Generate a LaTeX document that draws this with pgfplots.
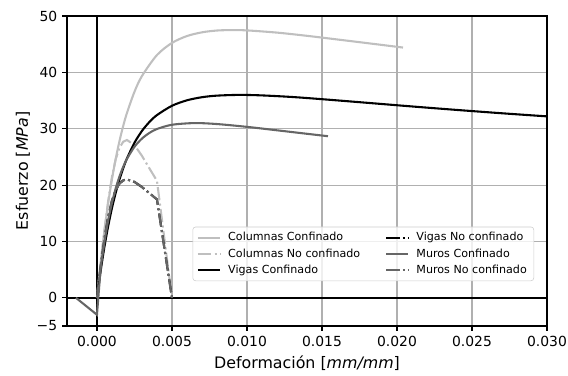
\documentclass[border=0pt]{standalone}
\usepackage{fontspec}
\setmainfont{DejaVu Sans}
\usepackage{pgfplots}
\pgfplotsset{compat=1.18}
\definecolor{colc}{HTML}{BFBFBF}
\definecolor{murc}{HTML}{666666}
\definecolor{gridc}{HTML}{B0B0B0}
\definecolor{legc}{HTML}{CCCCCC}
\tikzset{dashdot/.style={dash pattern=on 9.6pt off 2.4pt on 1.5pt off 2.4pt}}
\begin{document}
\begin{tikzpicture}
\useasboundingbox (-48.2pt,-35.3pt) rectangle (360.7pt,234.7pt);
\begin{axis}[
  at={(0,0)}, anchor=south west,
  width=345.6pt, height=223.2pt, scale only axis,
  xmin=-0.002, xmax=0.030, ymin=-5, ymax=50,
  scaled x ticks=false, scaled y ticks=false,
  xtick={0,0.005,0.010,0.015,0.020,0.025,0.030},
  xticklabels={0.000,0.005,0.010,0.015,0.020,0.025,0.030},
  ytick={-5,0,10,20,30,40,50},
  yticklabels={−5,0,10,20,30,40,50},
  tick align=outside, tick pos=left,
  major tick length=3.5pt,
  every tick/.style={black, line width=0.8pt},
  grid=major, major grid style={gridc, line width=0.8pt},
  axis line style={line width=0.8pt},
  tick label style={font=\fontsize{10}{12}\selectfont},
  label style={font=\fontsize{11.4}{13}\selectfont},
  xlabel={Deformación [\textit{mm/mm}]},
  ylabel={Esfuerzo [\textit{MPa}]},
  ylabel style={yshift=-2pt},
  legend columns=2,
  legend cell align=left,
  legend style={at={(0.973,0.145)}, anchor=south east,
    font=\fontsize{8}{9.6}\selectfont, draw=legc, fill=white, fill opacity=0.8, text opacity=1,
    rounded corners=2pt, inner xsep=3pt, inner ysep=2pt,
    /tikz/every odd column/.append style={column sep=3pt},
    /tikz/every even column/.append style={column sep=16pt}},
  legend image code/.code={\draw[#1] (0pt,0pt) -- (16pt,0pt);},
]
% reference lines
\addplot[black, line width=1.5pt, forget plot] coordinates {(-0.002,0) (0.030,0)};
\addplot[black, line width=1.5pt, forget plot] coordinates {(0,-5) (0,50)};
% Columnas Confinado
\addplot[colc, line width=1.5pt, smooth, forget plot] coordinates {
(0,0) (0.00025,6.33) (0.0005,11.94) (0.00075,16.82) (0.001,21.04) (0.00125,24.67)
(0.0015,27.80) (0.00175,30.49) (0.002,32.80) (0.0025,36.55) (0.003,39.35)
(0.004,43.07) (0.005,45.22) (0.006,46.44) (0.007,47.10) (0.008,47.42) (0.009,47.50)
(0.010,47.44) (0.012,47.05) (0.014,46.48) (0.016,45.84) (0.018,45.19) (0.0204,44.40)};
% Columnas No confinado
\addplot[colc, line width=1.5pt, dashdot, forget plot] coordinates {
(0,0) (0.00025,6.18) (0.0005,12.04) (0.00075,17.23) (0.001,21.46) (0.00125,24.58)
(0.0015,26.61) (0.00175,27.69) (0.002,28.00) (0.0025,27.11)
(0.003,25.18) (0.0035,22.95) (0.004,20.76) (0.005,0)};
% Vigas Confinado
\addplot[black, line width=1.5pt, smooth, forget plot] coordinates {
(0,0) (0.00025,4.83) (0.0005,9.08) (0.00075,12.76) (0.001,15.92) (0.00125,18.64)
(0.0015,20.98) (0.00175,22.99) (0.002,24.72) (0.0025,27.51) (0.003,29.61) (0.0035,31.20)
(0.004,32.42) (0.005,34.07) (0.006,35.04) (0.007,35.59) (0.008,35.87) (0.0095,36.00)
(0.011,35.91) (0.013,35.63) (0.015,35.24) (0.018,34.60) (0.021,33.95) (0.024,33.33)
(0.027,32.74) (0.030,32.19)};
% Vigas No confinado
\addplot[black, line width=1.5pt, dashdot, forget plot] coordinates {
(0,0) (0.00025,5.59) (0.0005,10.50) (0.00075,14.40) (0.001,17.24) (0.00125,19.14)
(0.0015,20.27) (0.00175,20.84) (0.002,21.00) (0.0025,20.57)
(0.003,19.65) (0.0035,18.56) (0.004,17.46) (0.005,0)};
% Muros Confinado (tension branch + compression)
\addplot[murc, line width=1.5pt, forget plot] coordinates {
(-0.0014,0) (0,-3) (0.00025,5.39)};
\addplot[murc, line width=1.5pt, smooth, forget plot] coordinates {
(0.00025,5.39) (0.0005,9.97) (0.00075,13.76) (0.001,16.87) (0.00125,19.42)
(0.0015,21.52) (0.00175,23.24) (0.002,24.65) (0.0025,26.79)
(0.003,28.25) (0.0035,29.26) (0.004,29.95) (0.005,30.70) (0.0065,31.00) (0.008,30.83) (0.010,30.33)
(0.012,29.72) (0.014,29.10) (0.0154,28.67)};
% Muros No confinado
\addplot[murc, line width=1.5pt, dashdot, forget plot] coordinates {
(0,0) (0.00025,5.59) (0.0005,10.50) (0.00075,14.40) (0.001,17.24) (0.00125,19.14)
(0.0015,20.27) (0.00175,20.84) (0.002,21.00) (0.0025,20.57)
(0.003,19.65) (0.0035,18.56) (0.004,17.46) (0.005,0)};
% legend (row-wise order for two columns)
\addlegendimage{colc, line width=1.5pt}
\addlegendentry{Columnas Confinado}
\addlegendimage{black, line width=1.5pt, dashdot}
\addlegendentry{Vigas No confinado}
\addlegendimage{colc, line width=1.5pt, dashdot}
\addlegendentry{Columnas No confinado}
\addlegendimage{murc, line width=1.5pt}
\addlegendentry{Muros Confinado}
\addlegendimage{black, line width=1.5pt}
\addlegendentry{Vigas Confinado}
\addlegendimage{murc, line width=1.5pt, dashdot}
\addlegendentry{Muros No confinado}
\end{axis}
\end{tikzpicture}
\end{document}
